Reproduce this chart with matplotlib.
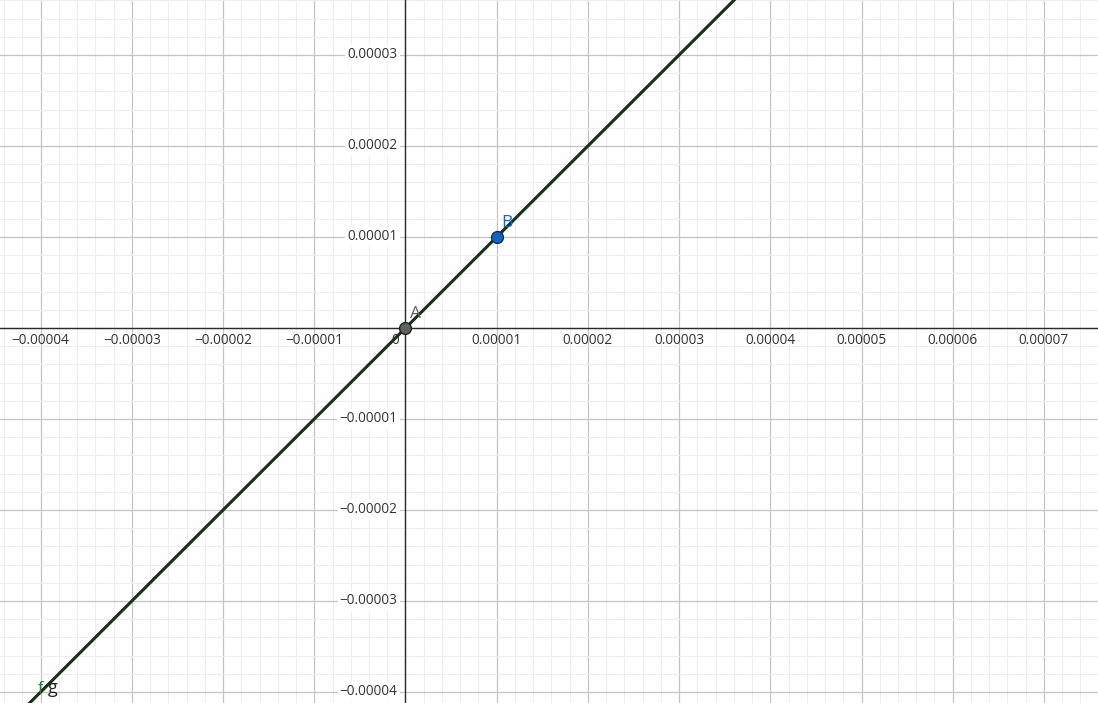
import matplotlib.pyplot as plt
from matplotlib.ticker import MultipleLocator

# points on the graph
point_names = ["A", "B"]
point_x = [0.0, 0.00001]
point_y = [0.0, 0.00001]

x_ticks = [-0.00004, -0.00003, -0.00002, -0.00001, 0.00001, 0.00002,
           0.00003, 0.00004, 0.00005, 0.00006, 0.00007]
x_labels = ["\u22120.00004", "\u22120.00003", "\u22120.00002", "\u22120.00001",
            "0.00001", "0.00002", "0.00003", "0.00004", "0.00005", "0.00006", "0.00007"]
y_ticks = [0.00003, 0.00002, 0.00001, -0.00001, -0.00002, -0.00003, -0.00004]
y_labels = ["0.00003", "0.00002", "0.00001", "\u22120.00001", "\u22120.00002",
            "\u22120.00003", "\u22120.00004"]

plt.rcParams['font.family'] = ['Open Sans', 'DejaVu Sans']

fig = plt.figure(figsize=(10.98, 7.03), dpi=100)
ax = fig.add_axes([0, 0, 1, 1])
ax.set_xlim(-0.00004446, 0.00007593)
ax.set_ylim(-0.00004121, 0.00003604)

ax.xaxis.set_major_locator(MultipleLocator(0.00001))
ax.yaxis.set_major_locator(MultipleLocator(0.00001))
ax.xaxis.set_minor_locator(MultipleLocator(0.000002))
ax.yaxis.set_minor_locator(MultipleLocator(0.000002))
ax.grid(which='minor', color='#eeeeee', lw=0.8, zorder=0)
ax.grid(which='major', color='#c4c4c4', lw=0.9, zorder=0)
ax.tick_params(which='both', length=0, labelbottom=False, labelleft=False)
for s in ax.spines.values():
    s.set_visible(False)

# axes
ax.axhline(0, color='#2b2b2b', lw=1.0, zorder=2)
ax.axvline(0, color='#2b2b2b', lw=1.0, zorder=2)

# tick labels
for xv, lab in zip(x_ticks, x_labels):
    ax.annotate(lab, (xv, 0), xytext=(0, -13), textcoords='offset pixels',
                ha='center', va='center', fontsize=9.8, color='#333333', zorder=3)
for yv, lab in zip(y_ticks, y_labels):
    ax.annotate(lab, (0, yv), xytext=(-8, 0), textcoords='offset pixels',
                ha='right', va='center', fontsize=9.8, color='#333333', zorder=3,
                bbox=dict(boxstyle='square,pad=0.15', fc='white', ec='none'))
ax.annotate("0", (0, 0), xytext=(-10, -13), textcoords='offset pixels',
            ha='center', va='center', fontsize=9.8, color='#333333', zorder=3)

# lines f and g (same line y = x through A and B)
ax.axline((point_x[0], point_y[0]), (point_x[1], point_y[1]), color='#1f5a1f', lw=2.2, zorder=4)
ax.axline((point_x[0], point_y[0]), (point_x[1], point_y[1]), color='#1c2e1c', lw=1.8, zorder=4)
ax.annotate("f", (0, 0), xycoords='axes fraction', xytext=(38, 10), textcoords='offset pixels',
            ha='left', va='baseline', fontsize=11.5, color='#2e7d32', zorder=5)
ax.annotate("g", (0, 0), xycoords='axes fraction', xytext=(48, 10), textcoords='offset pixels',
            ha='left', va='baseline', fontsize=13, color='#222222', zorder=5)

# points
ax.plot(point_x[0], point_y[0], 'o', ms=8.5, mfc='#616161', mec='#222222', mew=1.0, zorder=6)
ax.plot(point_x[1], point_y[1], 'o', ms=8.5, mfc='#1565c0', mec='#0d2f5a', mew=1.0, zorder=6)
ax.annotate(point_names[0], (point_x[0], point_y[0]), xytext=(5, 10), textcoords='offset pixels',
            ha='left', va='baseline', fontsize=12.5, color='#616161', zorder=6)
ax.annotate(point_names[1], (point_x[1], point_y[1]), xytext=(5, 10), textcoords='offset pixels',
            ha='left', va='baseline', fontsize=12.5, color='#1565c0', zorder=6)

fig.savefig('out.png', dpi=100)
